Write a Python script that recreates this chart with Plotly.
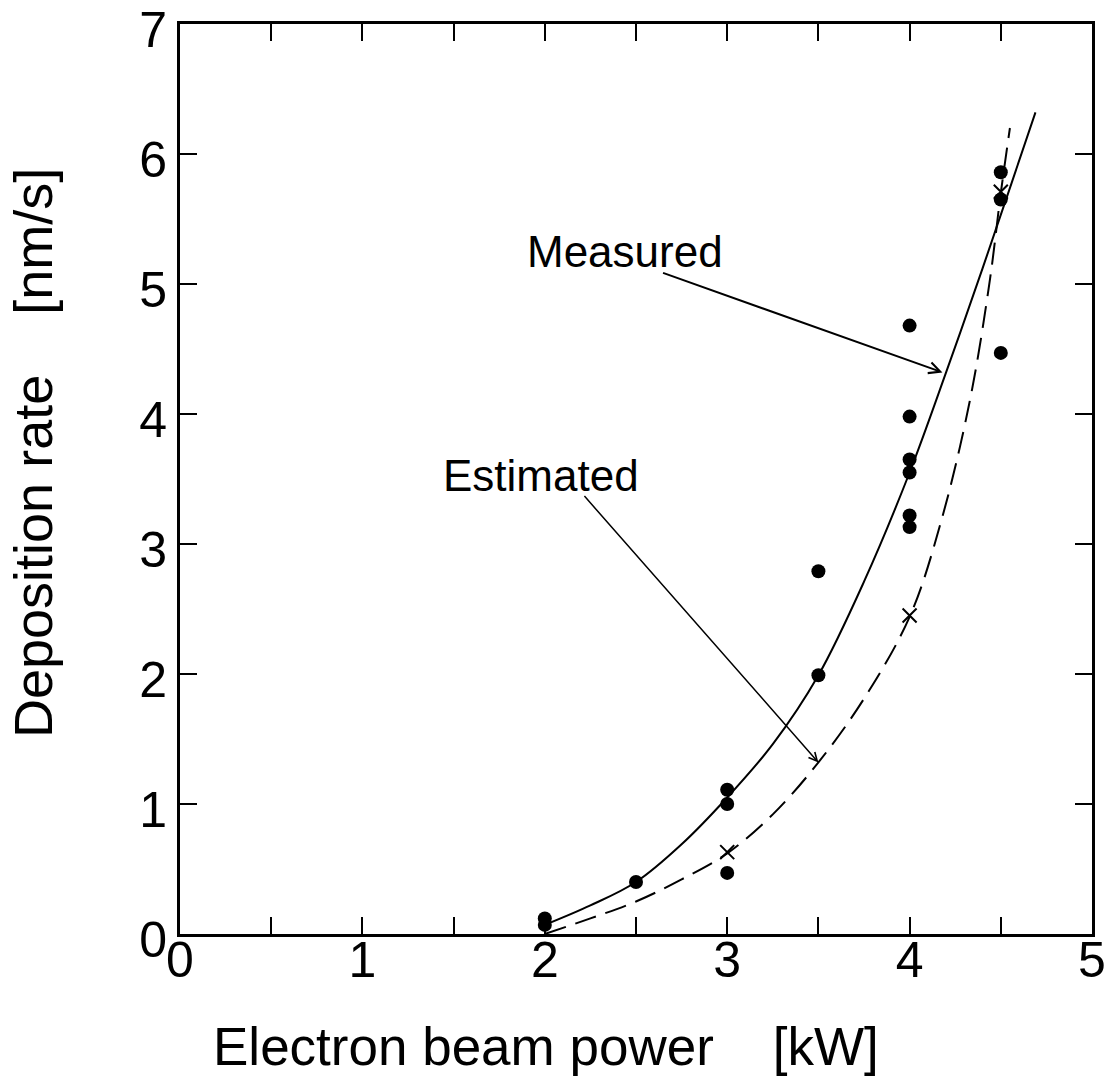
import plotly.graph_objects as go

# Measured data points (filled circles)
power_meas = [2.0, 2.0, 2.5, 3.0, 3.0, 3.0, 3.5, 3.5, 4.0, 4.0, 4.0, 4.0, 4.0, 4.0, 4.5, 4.5, 4.5]
rate_meas = [0.12, 0.07, 0.40, 1.11, 1.00, 0.47, 2.79, 1.99, 4.68, 3.98, 3.65, 3.55, 3.22, 3.13, 5.86, 5.65, 4.47]

# Estimated points (crosses)
power_est = [3.0, 4.0, 4.5]
rate_est = [0.63, 2.45, 5.71]

meas_curve_x = [2.0, 2.25, 2.5, 2.75, 3.0, 3.25, 3.5, 3.75, 4.0, 4.2, 4.4, 4.56, 4.69]
meas_curve_y = [0.07, 0.22, 0.40, 0.69, 1.05, 1.46, 1.99, 2.71, 3.55, 4.32, 5.12, 5.78, 6.32]

# Estimated curve (dashed)
est_curve_x = [2.0, 2.25, 2.5, 2.75, 3.0, 3.25, 3.5, 3.75, 4.0, 4.17, 4.33, 4.44, 4.5, 4.55]
est_curve_y = [0.0, 0.12, 0.25, 0.42, 0.62, 0.92, 1.32, 1.81, 2.44, 3.16, 4.10, 5.03, 5.70, 6.20]

x_tickvals = [0, 0.5, 1, 1.5, 2, 2.5, 3, 3.5, 4, 4.5, 5]
x_ticktext = ["0", "", "1", "", "2", "", "3", "", "4", "", "5"]
y_tickvals = [0, 1, 2, 3, 4, 5, 6, 7]
y_ticktext = ["0", "1", "2", "3", "4", "5", "6", "7"]

FONT = "Liberation Sans, Arial, Helvetica, sans-serif"

fig = go.Figure()

fig.add_trace(go.Scatter(x=meas_curve_x, y=meas_curve_y, mode="lines",
                         line=dict(color="black", width=2, shape="spline"),
                         showlegend=False, hoverinfo="skip"))
fig.add_trace(go.Scatter(x=est_curve_x, y=est_curve_y, mode="lines",
                         line=dict(color="black", width=2, shape="spline", dash="22px,10px"),
                         showlegend=False, hoverinfo="skip"))
fig.add_trace(go.Scatter(x=power_meas, y=rate_meas, mode="markers",
                         marker=dict(symbol="circle", size=14, color="black"),
                         showlegend=False, cliponaxis=False))
fig.add_trace(go.Scatter(x=power_est, y=rate_est, mode="markers",
                         marker=dict(symbol="x-thin-open", size=14, color="black",
                                     line=dict(color="black", width=2)),
                         showlegend=False))

axis_common = dict(
    showline=True, linecolor="black", linewidth=3, mirror="allticks",
    ticks="inside", ticklen=17, tickwidth=2, tickcolor="black",
    showgrid=False, zeroline=False, ticklabeloverflow="allow", automargin=False,
    tickfont=dict(family=FONT, size=50, color="black"),
)

fig.update_xaxes(range=[0, 5], tickmode="array", tickvals=x_tickvals, ticktext=x_ticktext,
                 ticklabelstandoff=-20, **axis_common)
fig.update_yaxes(range=[0, 7], tickmode="array", tickvals=y_tickvals, ticktext=y_ticktext,
                 ticklabelshift=5, **axis_common)

nb = "\u00a0"
annotations = [
    # text labels
    dict(x=2.44, y=5.25, xref="x", yref="y", text="Measured", showarrow=False,
         font=dict(family=FONT, size=44, color="black"), xanchor="center", yanchor="middle"),
    dict(x=1.98, y=3.53, xref="x", yref="y", text="Estimated", showarrow=False,
         font=dict(family=FONT, size=44, color="black"), xanchor="center", yanchor="middle"),
    # arrows
    dict(x=4.18, y=4.32, xref="x", yref="y", ax=2.64, ay=5.09, axref="x", ayref="y",
         text="", showarrow=True, arrowhead=5, arrowsize=1.1, arrowwidth=2, arrowcolor="black",
         standoff=0, startstandoff=0),
    dict(x=3.5, y=1.32, xref="x", yref="y", ax=2.21, ay=3.38, axref="x", ayref="y",
         text="", showarrow=True, arrowhead=5, arrowsize=1.1, arrowwidth=1.5, arrowcolor="black",
         standoff=0, startstandoff=0),
    # axis titles
    dict(x=(211 - 180) / 912, y=-(1046 - 934) / 910, xref="paper", yref="paper",
         text="Electron beam power" + nb * 4 + "[kW]", showarrow=False,
         font=dict(family=FONT, size=53, color="black"), xanchor="left", yanchor="middle"),
    dict(x=(33 - 180) / 912, y=(934 - 453) / 910, xref="paper", yref="paper",
         text="Deposition rate" + nb * 4 + "[nm/s]", showarrow=False, textangle=-90,
         font=dict(family=FONT, size=54, color="black"), xanchor="center", yanchor="middle"),
]

fig.update_layout(
    width=1108, height=1077,
    margin=dict(l=180, r=16, t=24, b=143, autoexpand=False),
    paper_bgcolor="white", plot_bgcolor="white",
    annotations=annotations,
    showlegend=False,
)

fig.write_html("out.html", config={"displayModeBar": False},
               post_script="document.body.style.margin='0';document.body.style.overflow='hidden';")
